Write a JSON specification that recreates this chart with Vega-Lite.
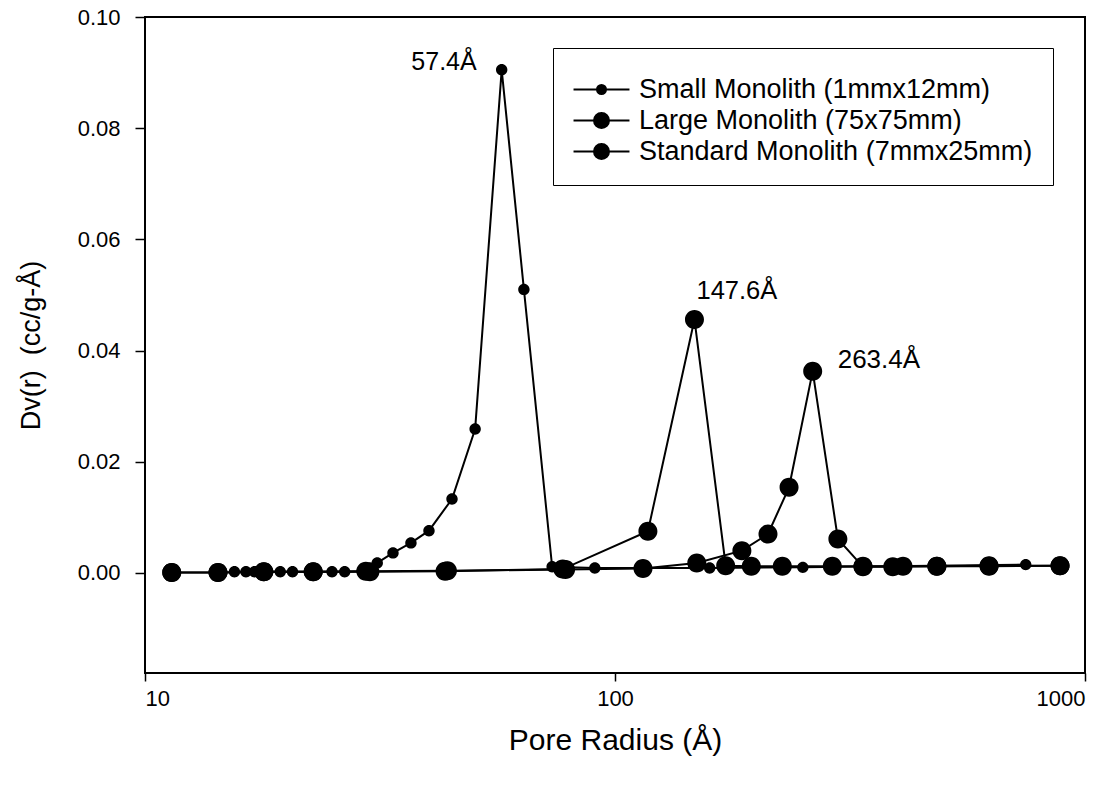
{
  "$schema": "https://vega.github.io/schema/vega-lite/v6.json",
  "autosize": "none",
  "width": 940,
  "height": 656,
  "padding": {"left": 145, "top": 17, "right": 31, "bottom": 114},
  "background": "white",
  "config": {
    "view": {"stroke": "black", "strokeWidth": 2},
    "font": "Liberation Sans",
    "axis": {
      "domain": false,
      "grid": false,
      "ticks": true,
      "tickColor": "black",
      "tickWidth": 1.5,
      "labelColor": "black",
      "titleColor": "black",
      "labelFont": "Liberation Sans",
      "titleFont": "Liberation Sans",
      "titleFontWeight": "normal"
    }
  },
  "datasets": {
    "psd": [
      {"series": "Small Monolith (1mmx12mm)", "r": 15.5, "dv": 0.0002},
      {"series": "Small Monolith (1mmx12mm)", "r": 16.4, "dv": 0.0002},
      {"series": "Small Monolith (1mmx12mm)", "r": 17.1, "dv": 0.0002},
      {"series": "Small Monolith (1mmx12mm)", "r": 19.4, "dv": 0.0002},
      {"series": "Small Monolith (1mmx12mm)", "r": 20.6, "dv": 0.0002},
      {"series": "Small Monolith (1mmx12mm)", "r": 25.0, "dv": 0.0002},
      {"series": "Small Monolith (1mmx12mm)", "r": 26.6, "dv": 0.0002},
      {"series": "Small Monolith (1mmx12mm)", "r": 29.0, "dv": 0.0003},
      {"series": "Small Monolith (1mmx12mm)", "r": 29.8, "dv": 0.0006},
      {"series": "Small Monolith (1mmx12mm)", "r": 31.2, "dv": 0.0018},
      {"series": "Small Monolith (1mmx12mm)", "r": 33.7, "dv": 0.0036},
      {"series": "Small Monolith (1mmx12mm)", "r": 36.8, "dv": 0.0054},
      {"series": "Small Monolith (1mmx12mm)", "r": 40.2, "dv": 0.0076},
      {"series": "Small Monolith (1mmx12mm)", "r": 45.0, "dv": 0.0133},
      {"series": "Small Monolith (1mmx12mm)", "r": 50.4, "dv": 0.0259},
      {"series": "Small Monolith (1mmx12mm)", "r": 57.4, "dv": 0.0905},
      {"series": "Small Monolith (1mmx12mm)", "r": 64.0, "dv": 0.0510},
      {"series": "Small Monolith (1mmx12mm)", "r": 73.5, "dv": 0.0011},
      {"series": "Small Monolith (1mmx12mm)", "r": 90.6, "dv": 0.0009},
      {"series": "Small Monolith (1mmx12mm)", "r": 159, "dv": 0.0009},
      {"series": "Small Monolith (1mmx12mm)", "r": 251, "dv": 0.0010},
      {"series": "Small Monolith (1mmx12mm)", "r": 748, "dv": 0.0015},

      {"series": "Large Monolith (75x75mm)", "r": 11.4, "dv": 0.0001},
      {"series": "Large Monolith (75x75mm)", "r": 14.3, "dv": 0.0001},
      {"series": "Large Monolith (75x75mm)", "r": 17.9, "dv": 0.0002},
      {"series": "Large Monolith (75x75mm)", "r": 22.8, "dv": 0.0002},
      {"series": "Large Monolith (75x75mm)", "r": 30.1, "dv": 0.0002},
      {"series": "Large Monolith (75x75mm)", "r": 43.5, "dv": 0.0003},
      {"series": "Large Monolith (75x75mm)", "r": 77.4, "dv": 0.0007},
      {"series": "Large Monolith (75x75mm)", "r": 117.5, "dv": 0.0075},
      {"series": "Large Monolith (75x75mm)", "r": 147.6, "dv": 0.0456},
      {"series": "Large Monolith (75x75mm)", "r": 172, "dv": 0.0013},
      {"series": "Large Monolith (75x75mm)", "r": 195, "dv": 0.0012},
      {"series": "Large Monolith (75x75mm)", "r": 227, "dv": 0.0012},
      {"series": "Large Monolith (75x75mm)", "r": 290, "dv": 0.0012},
      {"series": "Large Monolith (75x75mm)", "r": 337, "dv": 0.0012},
      {"series": "Large Monolith (75x75mm)", "r": 410, "dv": 0.0012},
      {"series": "Large Monolith (75x75mm)", "r": 484, "dv": 0.0012},
      {"series": "Large Monolith (75x75mm)", "r": 625, "dv": 0.0013},
      {"series": "Large Monolith (75x75mm)", "r": 885, "dv": 0.0013},

      {"series": "Standard Monolith (7mmx25mm)", "r": 11.4, "dv": 0.0001},
      {"series": "Standard Monolith (7mmx25mm)", "r": 14.3, "dv": 0.0001},
      {"series": "Standard Monolith (7mmx25mm)", "r": 17.9, "dv": 0.0002},
      {"series": "Standard Monolith (7mmx25mm)", "r": 22.8, "dv": 0.0002},
      {"series": "Standard Monolith (7mmx25mm)", "r": 29.5, "dv": 0.0003},
      {"series": "Standard Monolith (7mmx25mm)", "r": 44.0, "dv": 0.0004},
      {"series": "Standard Monolith (7mmx25mm)", "r": 78.5, "dv": 0.0006},
      {"series": "Standard Monolith (7mmx25mm)", "r": 114.7, "dv": 0.0008},
      {"series": "Standard Monolith (7mmx25mm)", "r": 149.3, "dv": 0.0018},
      {"series": "Standard Monolith (7mmx25mm)", "r": 186.2, "dv": 0.0040},
      {"series": "Standard Monolith (7mmx25mm)", "r": 211.6, "dv": 0.0070},
      {"series": "Standard Monolith (7mmx25mm)", "r": 234.6, "dv": 0.0154},
      {"series": "Standard Monolith (7mmx25mm)", "r": 263.4, "dv": 0.0363},
      {"series": "Standard Monolith (7mmx25mm)", "r": 298, "dv": 0.0061},
      {"series": "Standard Monolith (7mmx25mm)", "r": 337, "dv": 0.0011},
      {"series": "Standard Monolith (7mmx25mm)", "r": 390, "dv": 0.0011},
      {"series": "Standard Monolith (7mmx25mm)", "r": 484, "dv": 0.0012},
      {"series": "Standard Monolith (7mmx25mm)", "r": 625, "dv": 0.0012},
      {"series": "Standard Monolith (7mmx25mm)", "r": 885, "dv": 0.0013}
    ],
    "peaks": [
      {"r": 57.4, "dv": 0.0905, "label": "57.4Å", "side": "left"},
      {"r": 147.6, "dv": 0.0456, "label": "147.6Å", "side": "top"},
      {"r": 263.4, "dv": 0.0363, "label": "263.4Å", "side": "right"}
    ]
  },
  "layer": [
    {
      "mark": {"type": "rule", "color": "black", "strokeWidth": 1.5},
      "encoding": {"y": {"datum": 0}}
    },
    {
      "data": {"name": "psd"},
      "mark": {"type": "line", "color": "black", "strokeWidth": 2},
      "encoding": {
        "x": {"field": "r", "type": "quantitative"},
        "y": {"field": "dv", "type": "quantitative"},
        "detail": {"field": "series"}
      }
    },
    {
      "data": {"name": "psd"},
      "mark": {"type": "point", "filled": true, "opacity": 1, "size": 361, "strokeWidth": 0},
      "encoding": {
        "x": {
          "field": "r",
          "type": "quantitative",
          "scale": {"type": "log", "domain": [10, 1000], "nice": false},
          "axis": {
            "title": "Pore Radius (Å)",
            "values": [10, 100, 1000],
            "format": "d",
            "tickSize": 8,
            "labelFontSize": 22,
            "labelPadding": 7,
            "titleFontSize": 30,
            "titlePadding": 16
          }
        },
        "y": {
          "field": "dv",
          "type": "quantitative",
          "scale": {"domain": [-0.018, 0.10], "nice": false, "zero": false},
          "axis": {
            "title": "Dv(r)\u00a0 (cc/g-Å)",
            "values": [0, 0.02, 0.04, 0.06, 0.08, 0.10],
            "format": ".2f",
            "tickSize": 10,
            "labelFontSize": 22,
            "labelPadding": 15,
            "titleFontSize": 27,
            "titlePadding": 32
          }
        },
        "shape": {
          "field": "series",
          "type": "nominal",
          "scale": {
            "domain": ["Small Monolith (1mmx12mm)", "Large Monolith (75x75mm)", "Standard Monolith (7mmx25mm)"],
            "range": [
              "M-3.73,0H3.73M0.6,0A0.6,0.6,0,1,1,-0.6,0A0.6,0.6,0,1,1,0.6,0Z",
              "M-3.73,0H3.73M1,0A1,1,0,1,1,-1,0A1,1,0,1,1,1,0Z",
              "M-3.73,0H3.73M1,0A1,1,0,1,1,-1,0A1,1,0,1,1,1,0Z"
            ]
          }
        },
        "color": {
          "field": "series",
          "type": "nominal",
          "sort": null,
          "scale": {
            "domain": ["Small Monolith (1mmx12mm)", "Large Monolith (75x75mm)", "Standard Monolith (7mmx25mm)"],
            "range": ["black", "black", "black"]
          },
          "legend": {
            "title": "\u00a0",
            "titleFontSize": 4,
            "titlePadding": 4,
            "orient": "none",
            "legendX": 408,
            "legendY": 31,
            "padding": 20,
            "strokeColor": "black",
            "fillColor": "white",
            "labelFont": "Liberation Sans",
            "labelFontSize": 27,
            "labelColor": "black",
            "labelLimit": 1000,
            "labelOffset": 24,
            "rowPadding": 3,
            "symbolOffset": 15,
            "symbolSize": 225,
            "symbolStrokeColor": "black",
            "symbolStrokeWidth": 2,
            "encode": {
              "symbols": {
                "stroke": {"value": "black"},
                "strokeWidth": {"value": 2},
                "opacity": {"value": 1}
              }
            }
          }
        }
      }
    },
    {
      "data": {"name": "peaks"},
      "transform": [{"filter": "datum.side === 'left'"}],
      "mark": {"type": "text", "align": "right", "baseline": "middle", "dx": -25, "dy": -8, "fontSize": 25, "font": "Liberation Sans", "color": "black"},
      "encoding": {
        "x": {"field": "r", "type": "quantitative"},
        "y": {"field": "dv", "type": "quantitative"},
        "text": {"field": "label"}
      }
    },
    {
      "data": {"name": "peaks"},
      "transform": [{"filter": "datum.side === 'top'"}],
      "mark": {"type": "text", "align": "left", "baseline": "middle", "dx": 2, "dy": -28, "fontSize": 25.5, "font": "Liberation Sans", "color": "black"},
      "encoding": {
        "x": {"field": "r", "type": "quantitative"},
        "y": {"field": "dv", "type": "quantitative"},
        "text": {"field": "label"}
      }
    },
    {
      "data": {"name": "peaks"},
      "transform": [{"filter": "datum.side === 'right'"}],
      "mark": {"type": "text", "align": "left", "baseline": "middle", "dx": 25, "dy": -11, "fontSize": 26, "font": "Liberation Sans", "color": "black"},
      "encoding": {
        "x": {"field": "r", "type": "quantitative"},
        "y": {"field": "dv", "type": "quantitative"},
        "text": {"field": "label"}
      }
    }
  ]
}
